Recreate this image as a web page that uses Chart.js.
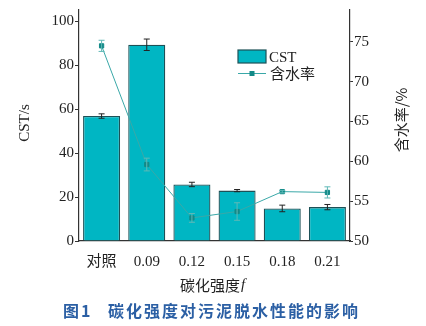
<!DOCTYPE html>
<html lang="zh">
<head>
    <meta charset="UTF-8">
    <title>碳化强度对污泥脱水性能的影响</title>
    <script src="https://cdn.jsdelivr.net/npm/chart.js"></script>
    <style>
        body {
            margin: 0;
            background: #ffffff;
        }
        #chart {
            display: block;
        }
    </style>
</head>
<body>
    <canvas id="chart" width="426" height="326"></canvas>

    <script>
        // 碳化强度 categories
        const categories = ['对照', '0.09', '0.12', '0.15', '0.18', '0.21'];
        // CST (s) with error
        const cstValues = [56.8, 89.2, 25.7, 22.9, 14.8, 15.4];
        const cstErrors = [1.0, 2.6, 1.0, 0.5, 1.5, 1.2];
        // 含水率 (%) with error
        const waterValues = [74.5, 59.6, 52.9, 53.7, 56.2, 56.1];
        const waterErrors = [0.7, 0.8, 0.55, 1.1, 0.15, 0.7];
        // axis ticks
        const cstTicks = [0, 20, 40, 60, 80, 100];
        const waterTicks = [50, 55, 60, 65, 70, 75];

        const barColor = '#00b6c3';
        const barEdge = '#1d5157';
        const lineColor = '#3aa8a8';
        const markColor = '#138a88';
        const axisColor = '#333333';
        const serif = "'Liberation Serif', 'DejaVu Serif', serif";
        const cjk = "'Noto Sans CJK SC', sans-serif";

        // error bars for both datasets, extra text (legend, titles, caption)
        const extras = {
            id: 'extras',
            afterDatasetsDraw(chart) {
                const ctx = chart.ctx;
                const x = chart.scales.x;
                const y = chart.scales.y;
                const y1 = chart.scales.y1;
                ctx.save();
                ctx.lineWidth = 1;
                // CST error bars
                ctx.strokeStyle = '#222222';
                cstValues.forEach((v, i) => {
                    const px = x.getPixelForValue(i);
                    const top = y.getPixelForValue(v + cstErrors[i]);
                    const bot = y.getPixelForValue(v - cstErrors[i]);
                    ctx.beginPath();
                    ctx.moveTo(px, top); ctx.lineTo(px, bot);
                    ctx.moveTo(px - 3, top); ctx.lineTo(px + 3, top);
                    ctx.moveTo(px - 3, bot); ctx.lineTo(px + 3, bot);
                    ctx.stroke();
                });
                // 含水率 error bars
                ctx.strokeStyle = '#5fb8b6';
                waterValues.forEach((v, i) => {
                    const px = x.getPixelForValue(i);
                    const top = y1.getPixelForValue(v + waterErrors[i]);
                    const bot = y1.getPixelForValue(v - waterErrors[i]);
                    ctx.beginPath();
                    ctx.moveTo(px, top); ctx.lineTo(px, bot);
                    ctx.moveTo(px - 3, top); ctx.lineTo(px + 3, top);
                    ctx.moveTo(px - 3, bot); ctx.lineTo(px + 3, bot);
                    ctx.stroke();
                });
                ctx.restore();
            },
            afterDraw(chart) {
                const ctx = chart.ctx;
                ctx.save();

                // legend
                ctx.fillStyle = barColor;
                ctx.strokeStyle = barEdge;
                ctx.lineWidth = 1.2;
                ctx.fillRect(238, 50, 28, 13);
                ctx.strokeRect(238, 50, 28, 13);
                ctx.strokeStyle = lineColor;
                ctx.lineWidth = 1;
                ctx.beginPath();
                ctx.moveTo(238, 73.5);
                ctx.lineTo(266, 73.5);
                ctx.stroke();
                ctx.fillStyle = markColor;
                ctx.fillRect(249.5, 71, 5, 5);
                ctx.fillStyle = '#222222';
                ctx.textBaseline = 'middle';
                ctx.textAlign = 'left';
                ctx.font = '15px ' + serif;
                ctx.fillText('CST', 269, 58);
                ctx.font = '15px ' + cjk;
                ctx.fillText('含水率', 270, 73);

                // axis titles
                ctx.textAlign = 'center';
                ctx.save();
                ctx.translate(25, 123);
                ctx.rotate(-Math.PI / 2);
                ctx.font = '15px ' + serif;
                ctx.fillText('CST/s', 0, 0);
                ctx.restore();
                ctx.save();
                ctx.translate(401, 120);
                ctx.rotate(-Math.PI / 2);
                ctx.font = '15px ' + cjk;
                ctx.fillText('含水率/%', 0, 0);
                ctx.restore();

                // x title with italic f
                ctx.textAlign = 'left';
                ctx.font = '15px ' + cjk;
                const t = '碳化强度';
                const tw = ctx.measureText(t).width;
                const x0 = 180;
                ctx.fillText(t, x0, 285);
                ctx.font = 'italic 15px ' + serif;
                ctx.fillText('f', x0 + tw + 1, 285);

                // caption
                ctx.fillStyle = '#2b5fa4';
                ctx.font = 'bold 16px ' + cjk;
                ctx.letterSpacing = '2px';
                ctx.fillText('图1', 63, 311);
                ctx.fillText('碳化强度对污泥脱水性能的影响', 108, 311);
                ctx.restore();
            }
        };

        new Chart(document.getElementById('chart').getContext('2d'), {
            data: {
                labels: categories,
                datasets: [
                    {
                        type: 'line',
                        label: '含水率',
                        data: waterValues,
                        yAxisID: 'y1',
                        borderColor: lineColor,
                        borderWidth: 1,
                        pointStyle: 'rect',
                        pointRadius: 3,
                        pointBackgroundColor: markColor,
                        pointBorderColor: markColor,
                        order: 0
                    },
                    {
                        type: 'bar',
                        label: 'CST',
                        data: cstValues,
                        yAxisID: 'y',
                        backgroundColor: barColor,
                        borderColor: barEdge,
                        borderWidth: 1.3,
                        barPercentage: 0.82,
                        categoryPercentage: 1,
                        order: 1
                    }
                ]
            },
            options: {
                responsive: false,
                animation: false,
                layout: { padding: { top: 7, left: 0, right: 0, bottom: 0 } },
                plugins: {
                    legend: { display: false },
                    tooltip: { enabled: false }
                },
                scales: {
                    x: {
                        grid: { display: false },
                        border: { display: true, color: axisColor, width: 1.2 },
                        ticks: {
                            color: '#222222',
                            padding: 4,
                            font: { family: serif + ", 'Noto Sans CJK SC'", size: 15 }
                        },
                        afterFit(scale) { scale.height = 85; }
                    },
                    y: {
                        position: 'left',
                        min: 0,
                        max: 105,
                        afterBuildTicks(scale) {
                            scale.ticks = cstTicks.map(v => ({ value: v }));
                        },
                        grid: { drawOnChartArea: false, tickLength: 4, color: axisColor },
                        border: { display: true, color: axisColor, width: 1.2 },
                        ticks: {
                            color: '#222222',
                            padding: 1,
                            font: { family: serif, size: 15 }
                        },
                        afterFit(scale) { scale.width = 79; }
                    },
                    y1: {
                        position: 'right',
                        min: 50,
                        max: 79,
                        afterBuildTicks(scale) {
                            scale.ticks = waterTicks.map(v => ({ value: v }));
                        },
                        grid: { drawOnChartArea: false, tickLength: 3, color: axisColor },
                        border: { display: true, color: axisColor, width: 1.2 },
                        ticks: {
                            color: '#222222',
                            padding: 1,
                            font: { family: serif, size: 15 }
                        },
                        afterFit(scale) { scale.width = 76; }
                    }
                }
            },
            plugins: [extras]
        });
    </script>
</body>
</html>
